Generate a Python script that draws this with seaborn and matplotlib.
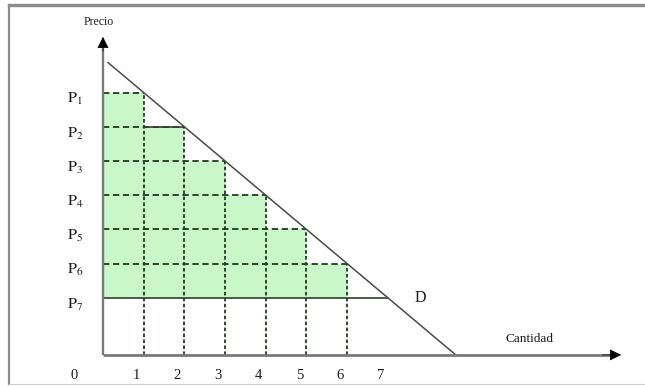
"""Demand curve with consumer-surplus steps (Precio vs Cantidad)."""

import matplotlib.pyplot as plt
import pandas as pd
import seaborn as sns

# quantities 1..7 and the price each unit is valued at
quantities = [1, 2, 3, 4, 5, 6, 7]
prices = [7.67, 6.67, 5.67, 4.67, 3.67, 2.67, 1.67]
price_labels = [r"$\mathrm{P}_{%d}$" % q for q in quantities]
tick_labels = ["1", "2", "3", "4", "5", "6", "7"]

# demand line D, end points
demand_q = [0.12, 8.67]
demand_p = [8.55, 0.0]

GREEN = "#c9f7c9"
DASH = "#1f3a1f"
AXIS = "#7a7a7a"

sns.set_style("white")
plt.rcParams["font.family"] = ["Liberation Serif", "DejaVu Serif"]
plt.rcParams["mathtext.fontset"] = "stix"

fig = plt.figure(figsize=(6.45, 3.86), dpi=100)
ax = fig.add_axes([9 / 645, 2 / 386, 636 / 645, 379 / 386])
ax.set_xlim(-2.31, 13.32)
ax.set_ylim(-0.85, 10.23)
ax.set_xticks([])
ax.set_yticks([])
for side, lw, col in [("top", 2.4, "#8c8c8c"), ("left", 1.6, "#8c8c8c"), ("bottom", 0.8, "#cfcfcf")]:
    ax.spines[side].set_visible(True)
    ax.spines[side].set_linewidth(lw)
    ax.spines[side].set_color(col)
ax.spines["right"].set_visible(False)

base = prices[-1]

# green steps: unit k spans [k-1, k], from P7 up to Pk
ax.bar([q - 0.5 for q in quantities], [p - base for p in prices], bottom=base,
       width=1.0, color=GREEN, linewidth=0, zorder=1)

# dashed guides
for q, p in zip(quantities[:-1], prices[:-1]):
    ax.plot([0, q], [p, p], color=DASH, lw=1.3, dashes=(3.5, 2), zorder=2)
    ax.plot([q, q], [0, p], color=DASH, lw=1.3, dashes=(2, 1.3), zorder=2)

# solid edges
ax.plot([0, quantities[-1]], [base, base], color="#2f3f2f", lw=1.2, zorder=3)
ax.plot([quantities[0], quantities[1]], [prices[1], prices[1]], color="#2f3f2f", lw=1.2, zorder=3)

# demand curve
df = pd.DataFrame({"q": demand_q, "p": demand_p})
sns.lineplot(data=df, x="q", y="p", color="#4a4a4a", lw=1.1, ax=ax, zorder=4)
ax.set_xlabel("")
ax.set_ylabel("")

# axes with arrows
ax.plot([0, 12.5], [0, 0], color=AXIS, lw=2.0, zorder=5, solid_capstyle="butt")
ax.plot([0, 0], [0, 9.0], color=AXIS, lw=1.7, zorder=5, solid_capstyle="butt")
ax.annotate("", xy=(12.8, 0), xytext=(12.2, 0),
            arrowprops=dict(arrowstyle="-|>", color="black", lw=0.5, mutation_scale=18),
            zorder=6)
ax.annotate("", xy=(0, 9.38), xytext=(0, 8.8),
            arrowprops=dict(arrowstyle="-|>", color="black", lw=0.5, mutation_scale=18),
            zorder=6)

# labels
for p, lab in zip(prices, price_labels):
    ax.text(-0.69, p - 0.2, lab, ha="center", va="center", fontsize=11.5, color="#1a1a1a")
for q, lab in zip(quantities, tick_labels):
    ax.text(q - 0.17, -0.6, lab, ha="center", va="center", fontsize=10.5, color="#1a1a1a")
ax.text(-0.70, -0.6, "0", ha="center", va="center", fontsize=10.5, color="#1a1a1a")
ax.text(-0.1, 9.74, "Precio", ha="center", va="center", fontsize=8.5, color="#1a1a1a")
ax.text(10.47, 0.47, "Cantidad", ha="center", va="center", fontsize=9.5, color="#1a1a1a")
ax.text(7.79, 1.67, "D", ha="center", va="center", fontsize=11.5, color="#1a1a1a")

fig.savefig("out.png", dpi=100)
